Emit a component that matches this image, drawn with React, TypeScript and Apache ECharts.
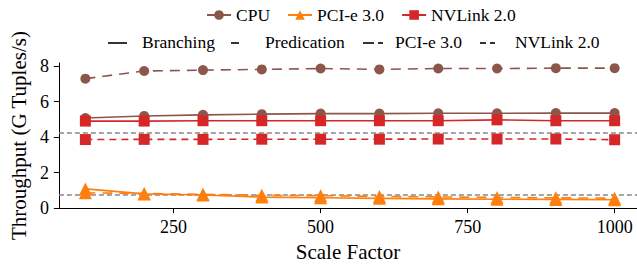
import React, { useEffect, useRef } from "react";
import * as echarts from "echarts";

const scaleFactors = [100, 200, 300, 400, 500, 600, 700, 800, 900, 1000];
const cpuBranching = [5.07, 5.19, 5.25, 5.29, 5.32, 5.32, 5.34, 5.34, 5.35, 5.35];
const cpuPredication = [7.29, 7.72, 7.77, 7.81, 7.86, 7.81, 7.86, 7.86, 7.88, 7.88];
const pciBranching = [1.08, 0.8, 0.74, 0.62, 0.58, 0.55, 0.52, 0.5, 0.49, 0.47];
const pciPredication = [0.86, 0.82, 0.78, 0.72, 0.7, 0.66, 0.63, 0.6, 0.58, 0.56];
const nvBranching = [4.9, 4.9, 4.92, 4.92, 4.92, 4.92, 4.92, 4.97, 4.92, 4.92];
const nvPredication = [3.86, 3.87, 3.87, 3.88, 3.88, 3.88, 3.89, 3.89, 3.89, 3.85];
const bandwidthLimits = [4.24, 0.77];
const xTicks = [250, 500, 750, 1000];
const yTicks = [0, 2, 4, 6, 8];

const FONT = "Liberation Serif";
const BROWN = "#8c564b";
const ORANGE = "#ff7f0e";
const RED = "#d62728";

const pairs = (ys: number[]) => scaleFactors.map((x, i) => [x, ys[i]]);

export default function App() {
  const ref = useRef<HTMLDivElement>(null);
  useEffect(() => {
    document.body.style.margin = "0";
    const chart = echarts.init(ref.current!, null, { renderer: "svg" });
    const mk = (name: string, color: string, symbol: string, size: number, ys: number[], dashed: number[] | null, z: number) => ({
      type: "line",
      name,
      data: pairs(ys),
      symbol,
      symbolSize: size,
      z,
      itemStyle: { color, opacity: 1 },
      lineStyle: { color, width: 1.6, type: dashed ? dashed : "solid" },
      emphasis: { disabled: true },
    });
    const legendLineY = 43;
    const seg = (x1: number, x2: number) => ({
      type: "line",
      shape: { x1, y1: legendLineY, x2, y2: legendLineY },
      style: { stroke: "#000", lineWidth: 1.6 },
    });
    const txt = (x: number, text: string) => ({
      type: "text",
      x,
      y: legendLineY - 1,
      style: { text, font: `17.5px "${FONT}"`, fill: "#000", textVerticalAlign: "middle" },
    });
    chart.setOption({
      animation: false,
      textStyle: { fontFamily: FONT },
      grid: { left: 54, right: 0, top: 63, bottom: 56, containLabel: false },
      legend: {
        data: ["CPU", "PCI-e 3.0", "NVLink 2.0"],
        top: 1,
        left: 201,
        itemWidth: 24,
        itemHeight: 12,
        itemGap: 17,
        textStyle: { fontFamily: FONT, fontSize: 17.5, color: "#000" },
      },
      xAxis: {
        type: "value",
        min: 55,
        max: 1038,
        name: "Scale Factor",
        nameLocation: "middle",
        nameGap: 32,
        nameTextStyle: { fontFamily: FONT, fontSize: 21, color: "#000" },
        axisLine: { show: true, lineStyle: { color: "#000", width: 1 } },
        axisTick: { show: true, length: 5, customValues: xTicks, lineStyle: { color: "#000" } },
        axisLabel: {
          customValues: xTicks,
          margin: 10,
          fontFamily: FONT,
          fontSize: 18,
          color: "#000",
          formatter: (v: number) => String(v),
        },
        splitLine: { show: false },
      },
      yAxis: {
        type: "value",
        min: 0,
        max: 8.17,
        name: "Throughput (G Tuples/s)",
        nameLocation: "middle",
        nameGap: 29,
        nameTextStyle: { fontFamily: FONT, fontSize: 21, color: "#000" },
        axisLine: { show: true, lineStyle: { color: "#000", width: 1 } },
        axisTick: { show: true, length: 5, customValues: yTicks, lineStyle: { color: "#000" } },
        axisLabel: {
          customValues: yTicks,
          margin: 10,
          fontFamily: FONT,
          fontSize: 18,
          color: "#000",
          formatter: (v: number) => String(v),
        },
        splitLine: { show: false },
      },
      series: [
        mk("CPU", BROWN, "circle", 10, cpuBranching, null, 3),
        mk("CPU", BROWN, "circle", 10, cpuPredication, [10, 7], 3),
        mk("PCI-e 3.0", ORANGE, "triangle", 13, pciBranching, null, 5),
        mk("PCI-e 3.0", ORANGE, "triangle", 13, pciPredication, [10, 7], 5),
        mk("NVLink 2.0", RED, "rect", 11, nvBranching, null, 6),
        {
          ...mk("NVLink 2.0", RED, "rect", 11, nvPredication, [7, 5], 6),
          markLine: {
            silent: true,
            symbol: "none",
            z: 4,
            label: { show: false },
            lineStyle: { color: "#888", width: 1.6, type: [5, 3] },
            data: bandwidthLimits.map((v) => ({ yAxis: v })),
          },
        },
      ],
      graphic: [
        seg(108, 127),
        txt(142, "Branching"),
        seg(231, 239),
        txt(265, "Predication"),
        seg(363, 374),
        seg(378, 383),
        txt(395, "PCI-e 3.0"),
        seg(480, 486),
        seg(490, 495),
        txt(515, "NVLink 2.0"),
      ],
    });
    return () => chart.dispose();
  }, []);
  return <div ref={ref} style={{ width: 637, height: 267 }} />;
}
